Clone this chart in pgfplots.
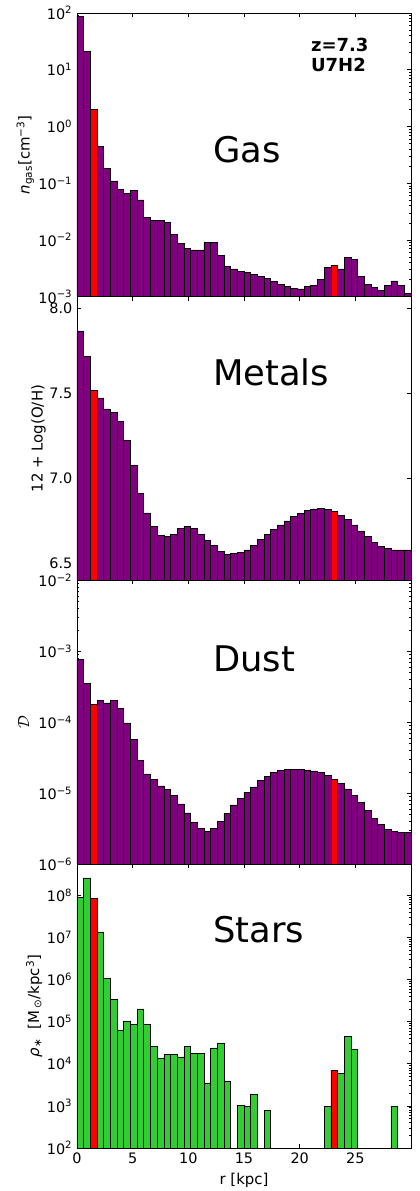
\documentclass[border=0pt]{standalone}
\usepackage{fontspec}
\setmainfont{DejaVu Sans}
\usepackage{pgfplots}
\pgfplotsset{compat=1.18}

\definecolor{mplpurple}{HTML}{800080}
\definecolor{mplred}{HTML}{FF0000}
\definecolor{mplgreen}{HTML}{32CD32}

% log tick labels in the text font: 10^{n} with a real minus sign
\newcommand\logtick{\pgfmathtruncatemacro\ex{round(\tick/ln(10))}10\textsuperscript{\ifnum\ex<0 −\the\numexpr-\ex\relax\else\ex\fi}}

\pgfkeys{/pgf/number format/assume math mode=true}

\pgfplotsset{
  panel/.style={
    scale only axis, width=250.5pt, height=212.8pt,
    xmin=0, xmax=30, xtick={0,5,...,25}, xticklabels={},
    tick align=inside, major tick length=3pt, minor tick length=1.8pt,
    axis line style={line width=0.6pt},
    every tick/.style={black, line width=0.5pt},
    tick label style={font=\fontsize{10.8}{12}\selectfont},
    label style={font=\fontsize{11.2}{13}\selectfont},
    ylabel style={at={(axis description cs:#1,0.5)}, anchor=center},
  },
  bars/.style={ybar, bar width=0.6, bar shift=0, fill=#1, draw=black, line width=0.5pt},
}
\tikzset{tag/.style={anchor=west, inner sep=0pt, font=\fontsize{26.5}{30}\selectfont}}

\begin{document}
\begin{tikzpicture}

% ---------------- Gas
\begin{axis}[panel=-0.155, name=gas, at={(0,0)}, anchor=north west,
  ymode=log, log origin y=infty, yticklabel={\logtick},
  ymin=1e-3, ymax=100, ytick={1e-3,1e-2,0.1,1,10,100},
  ylabel={\textit{n}\textsubscript{gas}[cm\textsuperscript{−3}]}]
\addplot[bars=mplpurple] coordinates {
 (0.3,88) (0.9,21.3) (2.1,0.44) (2.7,0.184) (3.3,0.11) (3.9,0.078) (4.5,0.067)
 (5.1,0.074) (5.7,0.051) (6.3,0.0248) (6.9,0.0219) (7.5,0.0225) (8.1,0.0205)
 (8.7,0.0124) (9.3,0.0087) (9.9,0.0072) (10.5,0.0067) (11.1,0.0067) (11.7,0.009)
 (12.3,0.009) (12.9,0.0053) (13.5,0.0034) (14.1,0.0031) (14.7,0.0028) (15.3,0.0027)
 (15.9,0.0025) (16.5,0.0023) (17.1,0.0021) (17.7,0.00187) (18.3,0.00163)
 (18.9,0.00152) (19.5,0.00142) (20.1,0.00137) (20.7,0.00151) (21.3,0.00161)
 (21.9,0.0020) (22.5,0.00325) (23.7,0.0031) (24.3,0.0049) (24.9,0.0045)
 (25.5,0.0023) (26.1,0.00167) (26.7,0.00145) (27.3,0.0013) (27.9,0.0016)
 (28.5,0.0019) (29.1,0.0016) (29.7,0.00115)
};
\addplot[bars=mplred] coordinates {(1.5,2.0) (23.1,0.0036)};
\node[tag] at (axis description cs:0.407,0.52) {Gas};
\node[anchor=west, inner sep=0pt, align=left, font=\bfseries\fontsize{13.5}{15.5}\selectfont]
  at (axis description cs:0.70,0.852) {z=7.3\\U7H2};
\end{axis}

% ---------------- Metals
\begin{axis}[panel=-0.115, at={(0,-212.8pt)}, anchor=north west,
  ymin=6.4, ymax=8.07, ytick={6.5,7,7.5,8},
  yticklabel style={/pgf/number format/.cd, fixed, fixed zerofill, precision=1},
  ylabel={12 + Log(O/H)}]
\addplot[bars=mplpurple] coordinates {
 (0.3,7.869) (0.9,7.718) (2.1,7.474) (2.7,7.41) (3.3,7.388) (3.9,7.335) (4.5,7.223)
 (5.1,7.076) (5.7,6.910) (6.3,6.798) (6.9,6.72) (7.5,6.667) (8.1,6.659) (8.7,6.672)
 (9.3,6.704) (9.9,6.72) (10.5,6.708) (11.1,6.672) (11.7,6.639) (12.3,6.604)
 (12.9,6.570) (13.5,6.555) (14.1,6.557) (14.7,6.567) (15.3,6.58) (15.9,6.608)
 (16.5,6.641) (17.1,6.672) (17.7,6.702) (18.3,6.727) (18.9,6.751) (19.5,6.776)
 (20.1,6.796) (20.7,6.81) (21.3,6.821) (21.9,6.825) (22.5,6.817) (23.7,6.784)
 (24.3,6.761) (24.9,6.727) (25.5,6.692) (26.1,6.657) (26.7,6.623) (27.3,6.602)
 (27.9,6.588) (28.5,6.58) (29.1,6.58) (29.7,6.58)
};
\addplot[bars=mplred] coordinates {(1.5,7.52) (23.1,6.804)};
\node[tag] at (axis description cs:0.407,0.735) {Metals};
\end{axis}

% ---------------- Dust
\begin{axis}[panel=-0.16, at={(0,-425.6pt)}, anchor=north west,
  ymode=log, log origin y=infty, yticklabel={\logtick},
  ymin=1e-6, ymax=1e-2, ytick={1e-6,1e-5,1e-4,1e-3,1e-2},
  ylabel={\fontsize{13}{14}\selectfont$\mathcal{D}$}]
\addplot[bars=mplpurple] coordinates {
 (0.3,7.7e-4) (0.9,3.56e-4) (2.1,2.05e-4) (2.7,1.88e-4) (3.3,2.03e-4) (3.9,1.56e-4)
 (4.5,9.8e-5) (5.1,5.7e-5) (5.7,2.93e-5) (6.3,1.88e-5) (6.9,1.55e-5) (7.5,1.27e-5)
 (8.1,1.14e-5) (8.7,9.3e-6) (9.3,7.1e-6) (9.9,5.3e-6) (10.5,3.9e-6) (11.1,3.16e-6)
 (11.7,2.93e-6) (12.3,3.23e-6) (12.9,4.0e-6) (13.5,5.27e-6) (14.1,6.84e-6)
 (14.7,8.5e-6) (15.3,1.03e-5) (15.9,1.23e-5) (16.5,1.5e-5) (17.1,1.74e-5)
 (17.7,1.96e-5) (18.3,2.09e-5) (18.9,2.15e-5) (19.5,2.17e-5) (20.1,2.16e-5)
 (20.7,2.14e-5) (21.3,2.07e-5) (21.9,1.96e-5) (22.5,1.77e-5) (23.7,1.39e-5)
 (24.3,1.15e-5) (24.9,9.4e-6) (25.5,7.4e-6) (26.1,5.7e-6) (26.7,4.48e-6)
 (27.3,3.64e-6) (27.9,3.13e-6) (28.5,2.87e-6) (29.1,2.78e-6) (29.7,2.84e-6)
};
\addplot[bars=mplred] coordinates {(1.5,1.8e-4) (23.1,1.58e-5)};
\node[tag] at (axis description cs:0.407,0.725) {Dust};
\end{axis}

% ---------------- Stars
\begin{axis}[panel=-0.128, at={(0,-638.4pt)}, anchor=north west,
  ymode=log, log origin y=infty, yticklabel={\logtick},
  ymin=100, ymax=5.5e8, ytick={100,1000,1e4,1e5,1e6,1e7,1e8},
  xticklabels={0,5,10,15,20,25},
  xlabel={r [kpc]},
  ylabel={\textit{ρ}\textsubscript{∗}\hspace{0.6em}[M\hspace{0.15em}\textsubscript{⊙}/kpc\textsuperscript{3}]}]
\addplot[bars=mplgreen] coordinates {
 (0.3,8.9e7) (0.9,2.6e8) (2.1,1.36e7) (2.7,1.06e6) (3.3,3.36e5) (3.9,6.3e4)
 (4.5,1.04e5) (5.1,8.5e4) (5.7,2.0e5) (6.3,8.7e4) (6.9,2.56e4) (7.5,1.38e4)
 (8.1,1.66e4) (8.7,1.66e4) (9.3,1.46e4) (9.9,2.56e4) (10.5,1.78e4) (11.1,1.78e4)
 (11.7,3.5e3) (12.3,2.38e4) (12.9,3.13e4) (13.5,3.85e3) (14.7,1.03e3) (15.3,980)
 (15.9,1.85e3) (17.1,790) (22.5,980) (23.7,5.85e3) (24.3,4.5e4) (24.9,2.2e4)
 (28.5,970)
};
\addplot[bars=mplred] coordinates {(1.5,8.5e7) (23.1,6.9e3)};
\node[tag] at (axis description cs:0.407,0.77) {Stars};
\end{axis}

\pgfresetboundingbox
\path ([shift={(-57.75pt,9.75pt)}]gas.north west) rectangle ++(315pt,-893.25pt);
\end{tikzpicture}
\end{document}
